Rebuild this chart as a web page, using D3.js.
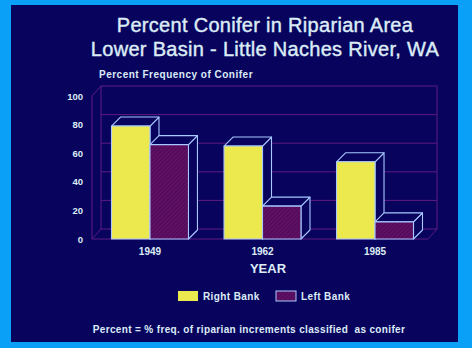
<!DOCTYPE html>
<html>
<head>
<meta charset="utf-8">
<script src="https://cdn.jsdelivr.net/npm/d3@7"></script>
<style>
  html, body { margin: 0; padding: 0; background: #0aa0f8; }
  svg { display: block; }
  text { font-family: "Liberation Sans", Arial, sans-serif; white-space: pre; }
</style>
</head>
<body>
<svg id="chart" width="472" height="348"></svg>
<script>
// Percent conifer by year, right and left bank
const years = ["1949", "1962", "1985"];
const seriesNames = ["Right Bank", "Left Bank"];
const rightBank = [79, 65, 54];
const leftBank = [66, 23, 12];
const yTicks = [0, 20, 40, 60, 80, 100];

const svg = d3.select("#chart");

const navy = "#08045e";
const textCol = "#dcecf6";
const gridCol = "#5e1a82";
const edgeCol = "#a8c8ff";
const fills = ["#ece94f", "#560a5c"];

// Pattern for the hatched left-bank bars
const defs = svg.append("defs");
const pat = defs.append("pattern")
  .attr("id", "hatch").attr("patternUnits", "userSpaceOnUse")
  .attr("width", 3).attr("height", 3)
  .attr("patternTransform", "rotate(45)");
pat.append("rect").attr("width", 3).attr("height", 3).attr("fill", fills[1]);
pat.append("line").attr("x1", 0).attr("y1", 0).attr("x2", 0).attr("y2", 3)
  .attr("stroke", "#6e1f72").attr("stroke-width", 1);

// Panel
svg.append("rect").attr("x", 11).attr("y", 5).attr("width", 447).attr("height", 337).attr("fill", navy);

// Titles
[["Percent Conifer in Riparian Area", 32], ["Lower Basin - Little Naches River, WA", 56]].forEach(([t, yy]) => {
  svg.append("text").attr("x", 265).attr("y", yy).attr("text-anchor", "middle")
    .attr("font-size", 20).attr("fill", textCol).attr("stroke", textCol).attr("stroke-width", 0.4)
    .attr("letter-spacing", 0.3).text(t);
});
svg.append("text").attr("x", 99).attr("y", 78)
  .attr("font-size", 10).attr("font-weight", "bold").attr("fill", textCol).attr("letter-spacing", 0.5)
  .text("Percent Frequency of Conifer");

// Scales
const plotLeft = 92, plotRight = 428, plotBase = 239, plotTop = 96;
const depthX = 9, depthY = 9, wallDY = 10;
const x = d3.scaleBand().domain(years).range([89, 436]).paddingInner(0.316).paddingOuter(0.2);
const y = d3.scaleLinear().domain([0, 100]).range([plotBase, plotTop]);

// Back wall and gridlines
const wall = svg.append("g").attr("stroke", gridCol).attr("fill", "none").attr("stroke-width", 1);
wall.append("rect").attr("x", plotLeft + depthX).attr("y", y(100) - wallDY)
  .attr("width", plotRight - plotLeft).attr("height", y(0) - y(100));
yTicks.filter(t => t > 0 && t < 100).forEach(t => {
  wall.append("line").attr("x1", plotLeft + depthX).attr("x2", plotRight + depthX)
    .attr("y1", y(t) - wallDY).attr("y2", y(t) - wallDY);
});
wall.append("line").attr("x1", plotLeft).attr("x2", plotLeft).attr("y1", y(100)).attr("y2", plotBase);
wall.append("line").attr("x1", plotLeft).attr("x2", plotRight).attr("y1", plotBase).attr("y2", plotBase);
wall.append("line").attr("x1", plotLeft).attr("x2", plotLeft + depthX).attr("y1", y(100)).attr("y2", y(100) - wallDY);
wall.append("line").attr("x1", plotLeft).attr("x2", plotLeft + depthX).attr("y1", plotBase).attr("y2", plotBase - wallDY);
wall.append("line").attr("x1", plotRight).attr("x2", plotRight + depthX).attr("y1", plotBase).attr("y2", plotBase - wallDY);

// Y axis labels
const yAxis = d3.axisLeft(y).tickValues(yTicks).tickSize(0).tickPadding(9);
const ya = svg.append("g").attr("transform", `translate(${plotLeft},0)`).call(yAxis);
ya.select(".domain").remove();
ya.selectAll("text").attr("font-size", 9.5).attr("font-weight", "bold")
  .attr("fill", textCol).attr("font-family", "Liberation Sans, Arial, sans-serif");

// 3D bars
const bw = x.bandwidth() / 2;
const bars = svg.append("g").attr("stroke", edgeCol).attr("stroke-width", 1.1).attr("stroke-linejoin", "round");
years.forEach((yr, i) => {
  [rightBank[i], leftBank[i]].forEach((v, s) => {
    const x0 = x(yr) + s * bw, x1 = x0 + bw, yt = y(v);
    const g = bars.append("g");
    // side face
    g.append("path").attr("fill", navy)
      .attr("d", `M${x1},${yt}L${x1 + depthX},${yt - depthY}L${x1 + depthX},${plotBase - depthY}L${x1},${plotBase}Z`);
    // top face
    g.append("path").attr("fill", navy)
      .attr("d", `M${x0},${yt}L${x0 + depthX},${yt - depthY}L${x1 + depthX},${yt - depthY}L${x1},${yt}Z`);
    // front face
    g.append("rect").attr("x", x0).attr("y", yt).attr("width", bw).attr("height", plotBase - yt)
      .attr("fill", s === 0 ? fills[0] : "url(#hatch)");
  });
});

// X axis labels
const xAxis = d3.axisBottom(x).tickSize(0).tickPadding(9);
const xa = svg.append("g").attr("transform", `translate(0,${plotBase})`).call(xAxis);
xa.select(".domain").remove();
xa.selectAll("text").attr("font-size", 10).attr("font-weight", "bold")
  .attr("fill", textCol).attr("font-family", "Liberation Sans, Arial, sans-serif");

svg.append("text").attr("x", 268).attr("y", 273).attr("text-anchor", "middle")
  .attr("font-size", 13).attr("font-weight", "bold").attr("fill", textCol).text("YEAR");

// Legend
const legendX = [178, 276];
seriesNames.forEach((name, i) => {
  svg.append("rect").attr("x", legendX[i]).attr("y", 291).attr("width", 20).attr("height", 10)
    .attr("fill", i === 0 ? fills[0] : "url(#hatch)")
    .attr("stroke", i === 0 ? "none" : edgeCol).attr("stroke-width", 1);
  svg.append("text").attr("x", legendX[i] + 25).attr("y", 300)
    .attr("font-size", 10).attr("font-weight", "bold").attr("fill", textCol).attr("letter-spacing", 0.4)
    .text(name);
});

// Footnote
svg.append("text").attr("x", 249).attr("y", 333).attr("text-anchor", "middle")
  .attr("font-size", 10).attr("font-weight", "bold").attr("fill", textCol).attr("letter-spacing", 0.35)
  .text("Percent = % freq. of riparian increments classified  as conifer");
</script>
</body>
</html>
